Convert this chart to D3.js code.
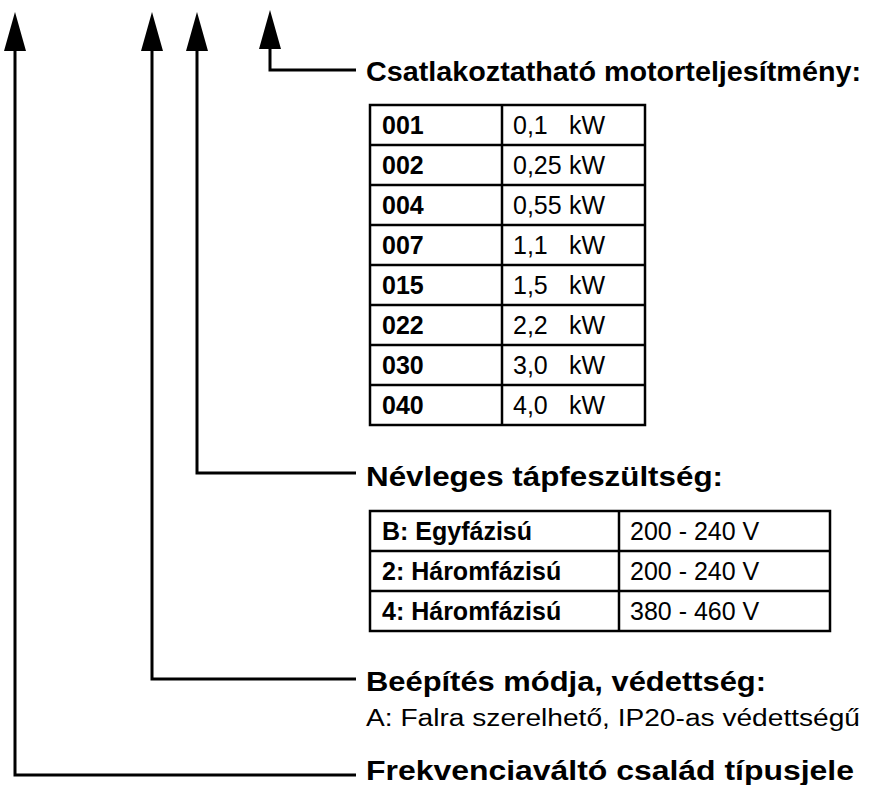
<!DOCTYPE html>
<meta charset="utf-8">
<script src="https://d3js.org/d3.v7.min.js"></script>
<style>
  body { margin: 0; background: #fff; }
  text { font-family: "Liberation Sans", Arial, Helvetica, sans-serif; fill: #000; }
</style>
<body>
<script>
// type code parts, from the rightmost arrow to the leftmost
var headings = ["Csatlakoztatható motorteljesítmény:", "Névleges tápfeszültség:",
                "Beépítés módja, védettség:", "Frekvenciaváltó család típusjele"];
var mountingNote = "A: Falra szerelhető, IP20-as védettségű";

var powerCodes = ["001", "002", "004", "007", "015", "022", "030", "040"];
var powerKW = ["0,1", "0,25", "0,55", "1,1", "1,5", "2,2", "3,0", "4,0"];
var powerUnit = "kW";

var supplyLabels = ["B: Egyfázisú", "2: Háromfázisú", "4: Háromfázisú"];
var supplyVoltages = ["200 - 240 V", "200 - 240 V", "380 - 460 V"];

var width = 870, height = 785;

var svg = d3.select("body").append("svg")
    .attr("width", width)
    .attr("height", height);

// arrows: x of shaft, y where it turns right, y of the heading baseline, text width
var arrows = [
    { x: 270, turn: 70, tip: 10, base: 48, head: headings[0], tw: 495, ty: 81 },
    { x: 197, turn: 473, tip: 12, base: 50, head: headings[1], tw: 357, ty: 486 },
    { x: 152, turn: 679, tip: 12, base: 50, head: headings[2], tw: 400, ty: 691 },
    { x: 15, turn: 775, tip: 12, base: 50, head: headings[3], tw: 488, ty: 780 }
];
var lineEnd = 356, textX = 366;

arrows.forEach(function (a) {
    svg.append("path")
        .attr("d", d3.line()([[a.x, a.base], [a.x, a.turn], [lineEnd, a.turn]]))
        .attr("fill", "none")
        .attr("stroke", "black")
        .attr("stroke-width", 3);
    svg.append("path")
        .attr("d", "M" + a.x + "," + a.tip + "L" + (a.x + 11) + "," + (a.base + 1) +
            "L" + (a.x - 11) + "," + (a.base + 1) + "Z")
        .attr("fill", "black");
    svg.append("text")
        .attr("x", textX)
        .attr("y", a.ty)
        .attr("font-size", 27)
        .attr("font-weight", "bold")
        .attr("textLength", a.tw)
        .attr("lengthAdjust", "spacingAndGlyphs")
        .text(a.head);
});

svg.append("text")
    .attr("x", textX)
    .attr("y", 726)
    .attr("font-size", 23)
    .attr("textLength", 494)
    .attr("lengthAdjust", "spacingAndGlyphs")
    .text(mountingNote);

// table drawing helper
function table(rowsLeft, rowsRight, top, left, divider, right, rightText) {
    var y = d3.scaleBand().domain(d3.range(rowsLeft.length))
        .range([top, top + 40 * rowsLeft.length]);
    var g = svg.append("g");
    g.append("rect")
        .attr("x", left).attr("y", top)
        .attr("width", right - left)
        .attr("height", y.range()[1] - top)
        .attr("fill", "none").attr("stroke", "black").attr("stroke-width", 2.5);
    g.append("line")
        .attr("x1", divider).attr("x2", divider)
        .attr("y1", top).attr("y2", y.range()[1])
        .attr("stroke", "black").attr("stroke-width", 2.5);
    g.selectAll(".sep").data(d3.range(1, rowsLeft.length)).enter().append("line")
        .attr("x1", left).attr("x2", right)
        .attr("y1", function (i) { return y(i); })
        .attr("y2", function (i) { return y(i); })
        .attr("stroke", "black").attr("stroke-width", 2.5);
    g.selectAll(".lt").data(rowsLeft).enter().append("text")
        .attr("x", left + 12)
        .attr("y", function (d, i) { return y(i) + y.bandwidth() / 2 + 9; })
        .attr("font-size", 25)
        .attr("font-weight", "bold")
        .text(function (d) { return d; });
    g.selectAll(".rt").data(rowsRight).enter().append("text")
        .attr("x", divider + 11)
        .attr("y", function (d, i) { return y(i) + y.bandwidth() / 2 + 9; })
        .attr("font-size", 25)
        .text(function (d) { return d; });
    return y;
}

var py = table(powerCodes, powerKW, 105, 370, 502, 645);
svg.selectAll(".unit").data(powerKW).enter().append("text")
    .attr("x", 569)
    .attr("y", function (d, i) { return py(i) + py.bandwidth() / 2 + 9; })
    .attr("font-size", 25)
    .text(powerUnit);

table(supplyLabels, supplyVoltages, 511, 370, 619, 830);
</script>
</body>
